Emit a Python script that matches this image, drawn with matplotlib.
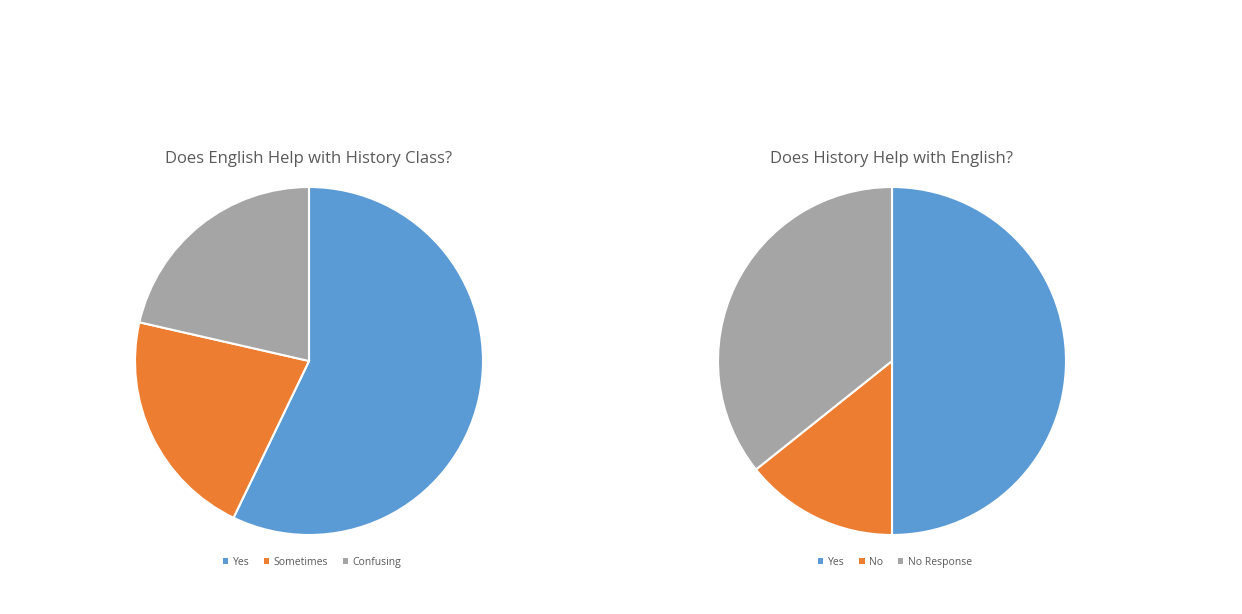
import matplotlib
matplotlib.use("Agg")
import matplotlib.pyplot as plt
from matplotlib.patches import Patch

plt.rcParams['font.family'] = ['Open Sans', 'DejaVu Sans']

title1 = "Does English Help with History Class?"
labels1 = ["Yes", "Sometimes", "Confusing"]
values1 = [8, 3, 3]

title2 = "Does History Help with English?"
labels2 = ["Yes", "No", "No Response"]
values2 = [7, 2, 5]

colors = ["#5B9BD5", "#ED7D31", "#A5A5A5"]

W, H = 1242, 614
fig = plt.figure(figsize=(W / 100, H / 100), dpi=100)

def draw(cx, cy, r, title, labels, values, legend_x):
    ax = fig.add_axes([(cx - r) / W, (H - cy - r) / H, 2 * r / W, 2 * r / H])
    ax.pie(values, colors=colors, startangle=90, counterclock=False,
           wedgeprops=dict(edgecolor="white", linewidth=1.5))
    ax.set_xlim(-1, 1)
    ax.set_ylim(-1, 1)
    ax.set_aspect("equal")
    ax.axis("off")
    fig.text(cx / W, 1 - 159 / H, title, ha="center", va="center",
             fontsize=12, color="#595959")
    handles = [Patch(facecolor=c, edgecolor="none") for c in colors]
    fig.legend(handles, labels, loc="center", bbox_to_anchor=(legend_x / W, 1 - 562.5 / H),
               ncol=3, frameon=False, fontsize=7.5, labelcolor="#595959",
               handlelength=0.5, handleheight=0.5, handletextpad=0.45,
               columnspacing=1.4)

draw(309, 361, 174, title1, labels1, values1, 312)
draw(892, 361, 174, title2, labels2, values2, 895)

fig.savefig("out.png", dpi=100, facecolor="white")
